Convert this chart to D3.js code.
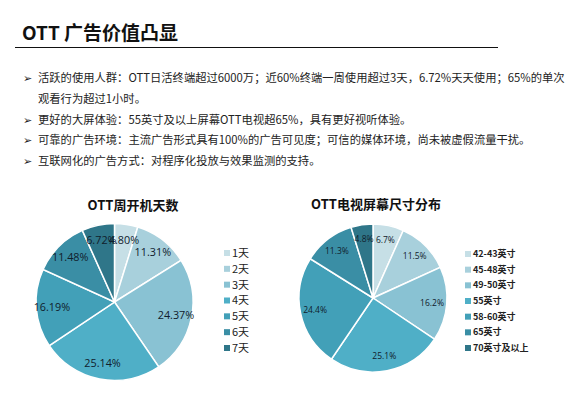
<!DOCTYPE html>
<html><head><meta charset="utf-8">
<script src="https://cdn.jsdelivr.net/npm/d3@7"></script>
<style>
html,body{margin:0;padding:0;background:#fff;}
svg{display:block;font-family:"Noto Sans CJK SC","Noto Sans",sans-serif;}
</style></head>
<body>
<svg id="c" width="574" height="395"></svg>
<script>
const pageTitle = "OTT 广告价值凸显";
const bullets = [
  ["活跃的使用人群：OTT日活终端超过6000万；近60%终端一周使用超过3天，6.72%天天使用；65%的单次", "观看行为超过1小时。"],
  ["更好的大屏体验：55英寸及以上屏幕OTT电视超65%，具有更好视听体验。"],
  ["可靠的广告环境：主流广告形式具有100%的广告可见度；可信的媒体环境，尚未被虚假流量干扰。"],
  ["互联网化的广告方式：对程序化投放与效果监测的支持。"]
];
const leftTitle = "OTT周开机天数";
const leftCats = ["1天","2天","3天","4天","5天","6天","7天"];
const leftVals = [4.80, 11.31, 24.37, 25.14, 16.19, 11.48, 6.72];
const leftLabels = ["4.80%","11.31%","24.37%","25.14%","16.19%","11.48%","6.72%"];
const rightTitle = "OTT电视屏幕尺寸分布";
const rightCats = ["42-43英寸","45-48英寸","49-50英寸","55英寸","58-60英寸","65英寸","70英寸及以上"];
const rightVals = [6.7, 11.5, 16.2, 25.1, 24.4, 11.3, 4.8];
const rightLabels = ["6.7%","11.5%","16.2%","25.1%","24.4%","11.3%","4.8%"];
const colors = ["#c6dfe6","#a8d0dc","#89c2d3","#4fafc7","#42a0b8","#3a8ea5","#2f7689"];

const svg = d3.select("#c");

// Title
svg.append("text").attr("x",22).attr("y",40).attr("font-size",19).attr("font-weight","bold")
  .attr("fill","#111").text(pageTitle);
svg.append("line").attr("x1",15).attr("x2",498).attr("y1",47.5).attr("y2",47.5)
  .attr("stroke","#111").attr("stroke-width",1.2);

// Bullets
let lineY = 78;
const lineStep = 20.8;
bullets.forEach(b => {
  svg.append("text").attr("x",23).attr("y",lineY+4).attr("font-size",11).attr("fill","#222").text("➢");
  b.forEach(t => {
    svg.append("text").attr("x",38).attr("y",lineY+4).attr("font-size",11.3).attr("fill","#222").text(t);
    lineY += lineStep;
  });
});

function drawPie(cfg){
  const g = svg.append("g");
  g.append("text").attr("x",cfg.tx).attr("y",cfg.ty).attr("text-anchor","middle")
    .attr("font-size",13).attr("font-weight","bold").attr("fill","#111").text(cfg.title);
  const pie = d3.pie().sort(null).value(d=>d)(cfg.vals);
  const arc = d3.arc().innerRadius(0).outerRadius(cfg.r);
  const labArc = d3.arc().innerRadius(cfg.r*cfg.lf).outerRadius(cfg.r*cfg.lf);
  const pg = g.append("g").attr("transform",`translate(${cfg.cx},${cfg.cy})`);
  pg.selectAll("path").data(pie).join("path").attr("d",arc)
    .attr("fill",(d,i)=>colors[i]).attr("stroke","#fff").attr("stroke-width",1.5);
  pg.selectAll("text").data(pie).join("text")
    .attr("transform",d=>`translate(${labArc.centroid(d)})`)
    .attr("text-anchor","middle").attr("dy","0.35em")
    .attr("font-size",cfg.lfs).attr("fill","#10202c")
    .attr("font-family","'Open Sans','Noto Sans',sans-serif")
    .text((d,i)=>cfg.labels[i]);
  const lg = g.append("g");
  const ly = d3.scalePoint().domain(cfg.cats).range([cfg.ly0, cfg.ly1]);
  cfg.cats.forEach((c,i)=>{
    lg.append("rect").attr("x",cfg.lx).attr("y",ly(c)-3).attr("width",cfg.sq).attr("height",cfg.sq).attr("fill",colors[i]);
    lg.append("text").attr("x",cfg.lx+cfg.sq+2).attr("y",ly(c)).attr("dy","0.35em")
      .attr("font-size",cfg.lgfs).attr("font-weight",cfg.lgw).attr("fill","#222").text(c);
  });
}

drawPie({title:leftTitle, tx:133, ty:210, vals:leftVals, labels:leftLabels, cats:leftCats,
  cx:114.5, cy:302, r:78.5, lf:0.8, lfs:10.8, lx:224, ly0:253, ly1:348, sq:6, lgfs:11, lgw:"normal"});
drawPie({title:rightTitle, tx:376, ty:209, vals:rightVals, labels:rightLabels, cats:rightCats,
  cx:373, cy:298, r:74, lf:0.8, lfs:8.5, lx:465, ly0:254, ly1:348, sq:6, lgfs:9, lgw:"bold"});
</script>
</body></html>
